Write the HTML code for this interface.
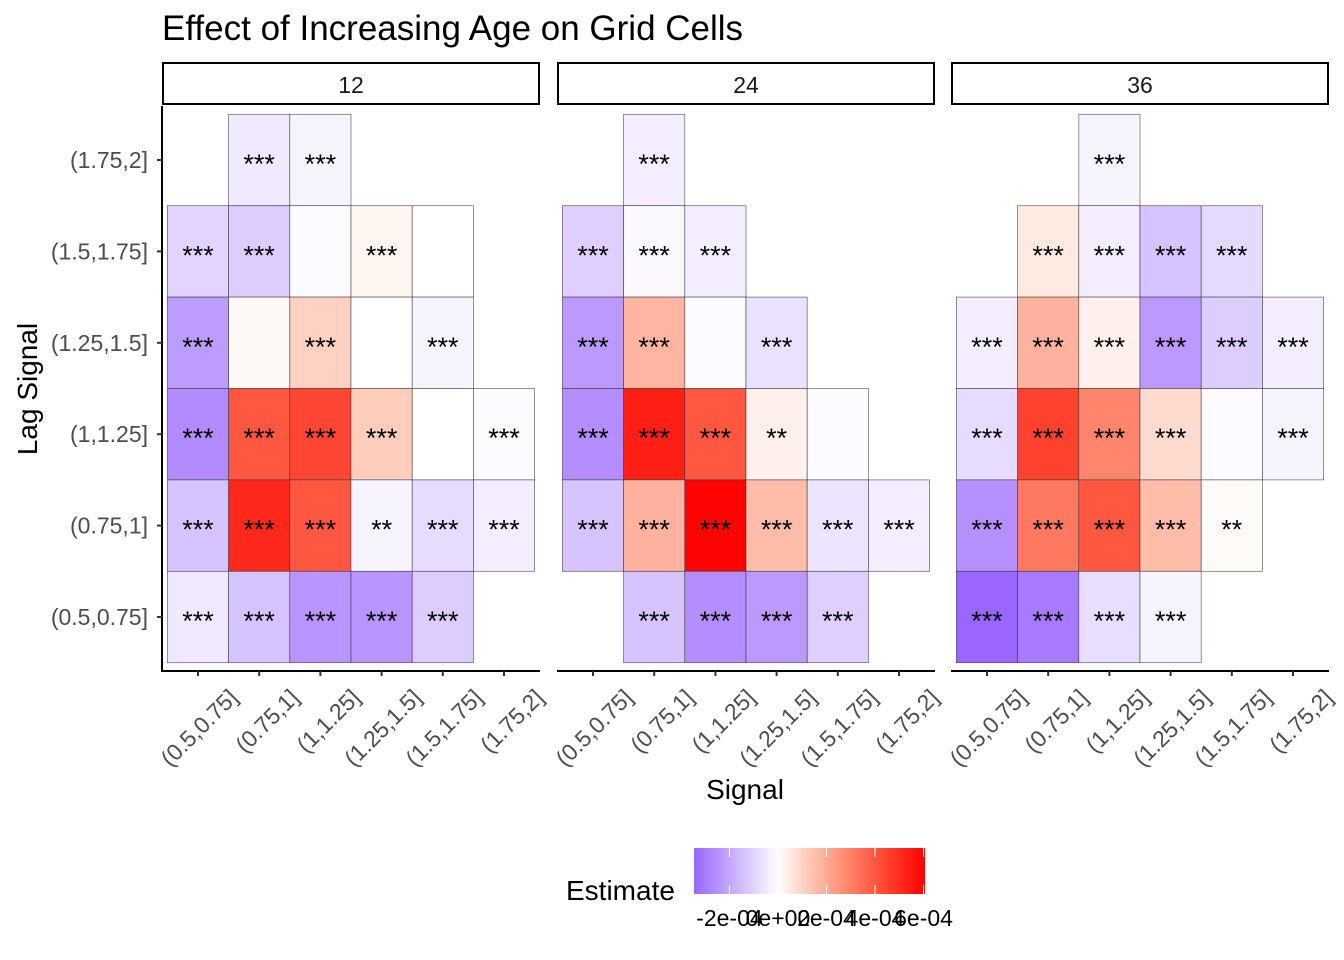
<!DOCTYPE html>
<html><head><meta charset="utf-8">
<style>
html,body{margin:0;padding:0;background:#fff;}
svg{display:block;font-family:"Liberation Sans",Arial,sans-serif;}
</style></head>
<body>
<svg id="chart" width="1344" height="960" viewBox="0 0 1344 960">
<text x="162" y="40" font-size="35" fill="#000">Effect of Increasing Age on Grid Cells</text>
<g id="panels"></g>
<text x="745" y="799" font-size="28" text-anchor="middle" fill="#000">Signal</text>
<text transform="translate(37,389) rotate(-90)" font-size="28" text-anchor="middle" fill="#000">Lag Signal</text>
<g id="legend">
<text x="566" y="900" font-size="28" fill="#000">Estimate</text>
</g>
</svg>
<script>
const categories = ["(0.5,0.75]","(0.75,1]","(1,1.25]","(1.25,1.5]","(1.5,1.75]","(1.75,2]"];
const panelLabels = ["12","24","36"];
// per panel: signal index, lag index, estimate (x1e-4), significance
const p12Signal = [1,2, 0,1,2,3,4, 0,1,2,3,4, 0,1,2,3,4,5, 0,1,2,3,4,5, 0,1,2,3,4];
const p12Lag    = [5,5, 4,4,4,4,4, 3,3,3,3,3, 2,2,2,2,2,2, 1,1,1,1,1,1, 0,0,0,0,0];
const p12Est    = [-0.5,-0.27, -1.0,-1.15,-0.1,0.24,0.0, -2.25,0.15,1.1,0.0,-0.25, -2.6,4.0,4.4,1.2,0.0,-0.1, -1.35,5.1,4.0,-0.25,-0.8,-0.4, -0.52,-1.35,-2.4,-2.4,-1.15];
const p12Sig    = ["***","***", "***","***","","***","", "***","","***","","***", "***","***","***","***","","***", "***","***","***","**","***","***", "***","***","***","***","***"];
const p24Signal = [1, 0,1,2, 0,1,2,3, 0,1,2,3,4, 0,1,2,3,4,5, 1,2,3,4];
const p24Lag    = [5, 4,4,4, 3,3,3,3, 2,2,2,2,2, 1,1,1,1,1,1, 0,0,0,0];
const p24Est    = [-0.4, -1.1,-0.15,-0.4, -2.3,1.75,-0.1,-0.7, -2.55,5.3,4.0,0.35,-0.1, -1.35,1.8,6.0,1.6,-0.6,-0.4, -1.35,-2.55,-2.3,-1.1];
const p24Sig    = ["***", "***","***","***", "***","***","","***", "***","***","***","**","", "***","***","***","***","***","***", "***","***","***","***"];
const p36Signal = [2, 1,2,3,4, 0,1,2,3,4,5, 0,1,2,3,4,5, 0,1,2,3,4, 0,1,2,3];
const p36Lag    = [5, 4,4,4,4, 3,3,3,3,3,3, 2,2,2,2,2,2, 1,1,1,1,1, 0,0,0,0];
const p36Est    = [-0.27, 0.5,-0.4,-1.35,-0.85, -0.4,1.8,0.35,-2.3,-1.15,-0.4, -0.8,4.5,2.9,0.85,-0.08,-0.25, -2.5,3.2,4.0,1.6,0.1, -3.46,-3.0,-0.75,-0.27];
const p36Sig    = ["***", "***","***","***","***", "***","***","***","***","***","***", "***","***","***","***","","***", "***","***","***","***","**", "***","***","***","***"];
const legendTicks = [-2,0,2,4,6];
const legendTickLabels = ["-2e-04","0e+00","2e-04","4e-04","6e-04"];

const EST_MIN = -3.46, EST_MAX = 6.06;
function fillColor(v){
  let r,g,b;
  if(v<0){const t=Math.min(1,v/EST_MIN); r=255-102*t; g=255-153*t; b=255;}
  else {const t=Math.min(1,v/EST_MAX); r=255; g=255-255*t; b=g-0.4*g*(255-g)/255;}
  return `rgb(${Math.round(r)},${Math.round(g)},${Math.round(b)})`;
}
const NS="http://www.w3.org/2000/svg";
function mk(tag,attrs,parent){const e=document.createElementNS(NS,tag);for(const k in attrs)e.setAttribute(k,attrs[k]);parent.appendChild(e);return e;}

const panelLeft=[162,557,951], panelW=378, plotTop=106, plotBottom=671;
const unitX=61.2, unitY=91.4;
function xScale(p,i){return panelLeft[p]+36+i*unitX;}
function yScale(j){return 617-j*unitY;}

const panelsG=document.getElementById('panels');
const data=[[p12Signal,p12Lag,p12Est,p12Sig],[p24Signal,p24Lag,p24Est,p24Sig],[p36Signal,p36Lag,p36Est,p36Sig]];
data.forEach((d,p)=>{
  const g=mk('g',{},panelsG);
  
  
  const strip=mk('rect',{x:panelLeft[p]+1,y:63,width:panelW-2,height:41,fill:'#fff',stroke:'#000','stroke-width':2},g);
  
  
  const st=mk('text',{x:panelLeft[p]+panelW/2,y:93,'font-size':23,'text-anchor':'middle',fill:'#1a1a1a'},g);
  st.textContent=panelLabels[p];
  
  
  const [sx,ly,est,sig]=d;
  for(let k=0;k<sx.length;k++){
    const cx=xScale(p,sx[k]), cy=yScale(ly[k]);
    const r=mk('rect',{x:cx-unitX/2,y:cy-unitY/2,width:unitX,height:unitY,fill:fillColor(est[k]),stroke:'#333','stroke-opacity':0.75,'stroke-width':0.7},g);
    
    
    if(sig[k]){
      const t=mk('text',{x:cx,y:cy+13,'font-size':27,'text-anchor':'middle',fill:'#000'},g);
      t.textContent=sig[k];
      
      
    }
  }
  const xa=mk('line',{x1:panelLeft[p],x2:panelLeft[p]+panelW,y1:plotBottom,y2:plotBottom,stroke:'#000','stroke-width':2},g);
  
  
  if(p===0){
    const ya=mk('line',{x1:162,x2:162,y1:plotTop,y2:plotBottom+1,stroke:'#000','stroke-width':2},g);
    
    
    categories.forEach((c,j)=>{
      const y=yScale(j);
      mk('line',{x1:157,x2:162,y1:y,y2:y,stroke:'#333','stroke-width':2},g);
      const t=mk('text',{x:148,y:y+8,'font-size':23,'text-anchor':'end',fill:'#4d4d4d'},g);
      t.textContent=c;
      
      
    });
  }
  categories.forEach((c,i)=>{
    const x=xScale(p,i);
    mk('line',{x1:x,x2:x,y1:plotBottom,y2:plotBottom+5,stroke:'#333','stroke-width':2},g);
    const t=mk('text',{transform:`translate(${x+41},${699}) rotate(-45)`,'font-size':23,'text-anchor':'end',fill:'#4d4d4d'},g);
    t.textContent=c;
    
    
  });
});

const lg=document.getElementById('legend');
const defs=mk('defs',{},lg);
const grad=mk('linearGradient',{id:'lgGrad',x1:0,x2:1,y1:0,y2:0},defs);
for(let s=0;s<=40;s++){
  const v=EST_MIN+(EST_MAX-EST_MIN)*s/40;
  mk('stop',{offset:(s/40),'stop-color':fillColor(v)},grad);
}
const LX0=694, LX1=925;
function legendX(v){return LX0+(v-EST_MIN)/(EST_MAX-EST_MIN)*(LX1-LX0);}
const bar=mk('rect',{x:LX0,y:848,width:LX1-LX0,height:46,fill:'url(#lgGrad)'},lg);


legendTicks.forEach((v,i)=>{
  const x=legendX(v);
  mk('line',{x1:x,x2:x,y1:848,y2:857,stroke:'#fff','stroke-width':1},lg);
  mk('line',{x1:x,x2:x,y1:885,y2:894,stroke:'#fff','stroke-width':1},lg);
  const t=mk('text',{x:x,y:926,'font-size':23,'text-anchor':'middle',fill:'#000'},lg);
  t.textContent=legendTickLabels[i];
  
  
});
</script>
</body></html>
